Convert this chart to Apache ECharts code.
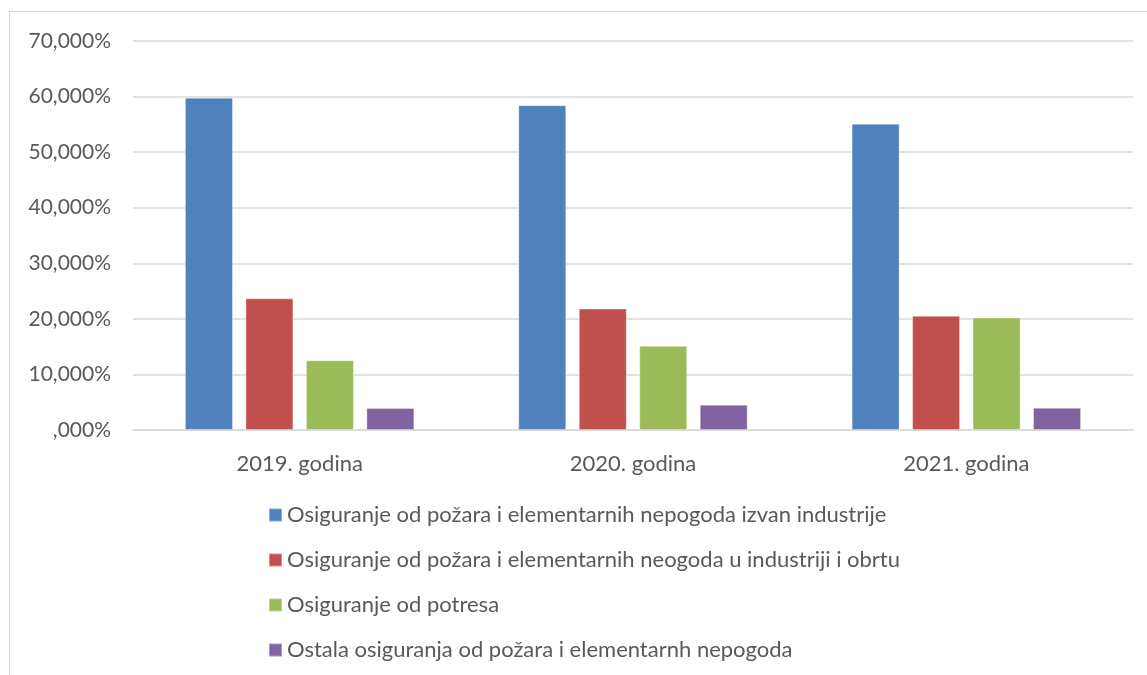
<!DOCTYPE html>
<html>
<head>
<meta charset="utf-8">
<script src="https://cdn.jsdelivr.net/npm/echarts@6/dist/echarts.min.js"></script>
<style>
  html, body { margin: 0; padding: 0; background: #fff; }
  #frame { position: absolute; left: 9px; top: 11px; width: 1200px; height: 700px; border: 1px solid #d9d9d9; }
  #chart { position: absolute; left: 0; top: 0; width: 1147px; height: 675px; }
</style>
</head>
<body>
<div id="frame"></div>
<div id="chart"></div>
<script>
// kategorije (godine)
const years = ['2019. godina', '2020. godina', '2021. godina']
// nazivi serija
const seriesNames = [
  'Osiguranje od požara i elementarnih nepogoda izvan industrije',
  'Osiguranje od požara i elementarnih neogoda u industriji i obrtu',
  'Osiguranje od potresa',
  'Ostala osiguranja od požara i elementarnh nepogoda'
]
// udjeli u %
const izvanIndustrije = [59.8, 58.45, 55.1]
const uIndustriji = [23.7, 21.85, 20.55]
const potres = [12.55, 15.15, 20.25]
const ostalo = [3.95, 4.55, 4.0]
const colors = ['#4f81bd', '#c0504d', '#9bbb59', '#8064a2']
const yTicks = [0, 10, 20, 30, 40, 50, 60, 70]

const chart = echarts.init(document.getElementById('chart'))
const font = 'Lato, "Open Sans", sans-serif'
const allData = [izvanIndustrije, uIndustriji, potres, ostalo]

const option = {
  animation: false,
  textStyle: { fontFamily: font },
  grid: { left: 133, right: 14, top: 41, bottom: 245 },
  legend: {
    orient: 'vertical',
    left: 263,
    top: 499,
    itemGap: 23,
    itemWidth: 13,
    itemHeight: 13,
    icon: 'rect',
    selectedMode: false,
    textStyle: { color: '#595959', fontSize: 22, lineHeight: 22, fontFamily: font },
    data: seriesNames
  },
  xAxis: {
    type: 'category',
    data: years,
    axisTick: { show: false },
    axisLine: { lineStyle: { color: '#d9d9d9', width: 1.5 } },
    axisLabel: { color: '#595959', fontSize: 22, margin: 23, fontFamily: font }
  },
  yAxis: {
    type: 'value',
    min: yTicks[0],
    max: yTicks[yTicks.length - 1],
    interval: 10,
    axisLine: { show: false },
    axisTick: { show: false },
    splitLine: { lineStyle: { color: '#d9d9d9', width: 1.5 } },
    axisLabel: {
      color: '#595959',
      fontSize: 21,
      margin: 22,
      fontFamily: font,
      formatter: v => (v === 0 ? '' : v) + ',000%'
    }
  },
  series: allData.map((d, i) => ({
    name: seriesNames[i],
    type: 'bar',
    data: d,
    barWidth: 48,
    barGap: '26%',
    itemStyle: { color: colors[i], borderColor: 'rgba(255,255,255,0.35)', borderWidth: 1 }
  }))
}
chart.setOption(option)
</script>
</body>
</html>
